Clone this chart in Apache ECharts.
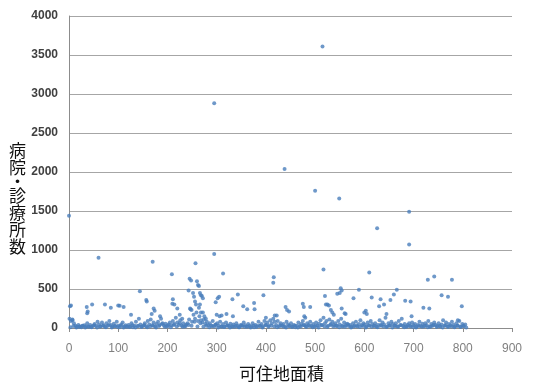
<!DOCTYPE html>
<html>
<head>
<meta charset="utf-8">
<script src="https://cdn.jsdelivr.net/npm/echarts@6/dist/echarts.min.js"></script>
<style>
  html, body {margin: 0; padding: 0; background: #fff;}
  #chart {width: 538px; height: 383px;}
</style>
</head>
<body>
<div id="chart"></div>
<script>
// notable (higher) points
const peakArea = [
  0, 2, 4, 7, 36, 37, 38, 47, 60, 73, 85, 100, 103, 111, 126, 144, 157, 158, 170, 172,
  174, 168, 185, 209, 211, 210, 214, 220, 225, 230, 243, 245, 248, 252, 254, 256, 257, 258, 260, 262,
  264, 266, 268, 270, 272, 266, 264, 268, 272, 275, 278, 246, 249, 295, 295, 298, 302, 305, 300, 306,
  310, 313, 320, 333, 332, 343, 354, 362, 376, 377, 395, 400, 415, 416, 418, 422, 438, 440, 443, 447,
  475, 477, 478, 480, 490, 500, 515, 517, 520, 522, 525, 528, 532, 535, 538, 545, 549, 550, 552, 554,
  554, 560, 562, 578, 589, 600, 603, 605, 610, 615, 626, 630, 633, 640, 645, 653, 660, 666, 683, 691,
  691, 694, 696, 720, 729, 732, 742, 757, 770, 778, 790, 798
];
const peakCount = [
  1440, 280, 290, 100, 270, 190, 210, 300, 900, 300, 260, 290, 285, 270, 170, 470, 360, 340, 850, 250,
  220, 180, 150, 690, 370, 310, 300, 250, 170, 120, 480, 630, 610, 450, 400, 340, 830, 300, 600, 550,
  540, 450, 420, 410, 380, 300, 260, 200, 200, 150, 120, 250, 230, 2880, 950, 330, 380, 400, 170, 150,
  160, 700, 180, 150, 370, 430, 280, 240, 320, 240, 420, 130, 580, 650, 160, 160, 2040, 270, 230, 210,
  310, 270, 150, 130, 270, 1760, 3610, 750, 410, 300, 300, 290, 230, 200, 170, 440, 1660, 450, 510, 480,
  250, 190, 180, 380, 490, 200, 220, 180, 710, 390, 1280, 280, 370, 300, 180, 360, 430, 490, 350, 1490,
  1070, 340, 150, 260, 620, 250, 660, 420, 400, 620, 100, 280
];

// dense band of low values
const lowArea = [
  1, 4, 7, 10, 13, 16, 19, 22, 25, 28, 31, 34, 37, 40, 43, 46, 49, 52, 55, 58,
  61, 64, 67, 70, 73, 76, 79, 82, 85, 88, 91, 94, 97, 100, 103, 106, 109, 112, 115, 118,
  121, 124, 127, 130, 133, 136, 139, 142, 145, 148, 151, 154, 157, 160, 163, 166, 169, 172, 175, 178,
  181, 184, 187, 190, 193, 196, 199, 202, 205, 208, 211, 214, 217, 220, 223, 226, 229, 232, 235, 238,
  241, 244, 247, 250, 253, 256, 259, 262, 265, 268, 271, 274, 277, 280, 283, 286, 289, 292, 295, 298,
  301, 304, 307, 310, 313, 316, 319, 322, 325, 328, 331, 334, 337, 340, 343, 346, 349, 352, 355, 358,
  361, 364, 367, 370, 373, 376, 379, 382, 385, 388, 391, 394, 397, 400, 403, 406, 409, 412, 415, 418,
  421, 424, 427, 430, 433, 436, 439, 442, 445, 448, 451, 454, 457, 460, 463, 466, 469, 472, 475, 478,
  481, 484, 487, 490, 493, 496, 499, 502, 505, 508, 511, 514, 517, 520, 523, 526, 529, 532, 535, 538,
  541, 544, 547, 550, 553, 556, 559, 562, 565, 568, 571, 574, 577, 580, 583, 586, 589, 592, 595, 598,
  601, 604, 607, 610, 613, 616, 619, 622, 625, 628, 631, 634, 637, 640, 643, 646, 649, 652, 655, 658,
  661, 664, 667, 670, 673, 676, 679, 682, 685, 688, 691, 694, 697, 700, 703, 706, 709, 712, 715, 718,
  721, 724, 727, 730, 733, 736, 739, 742, 745, 748, 751, 754, 757, 760, 763, 766, 769, 772, 775, 778,
  781, 784, 787, 790, 793, 796, 799, 802, 805
];
const lowCount = [
  120, 90, 110, 60, 30, 15, 40, 20, 10, 25, 35, 20, 60, 15, 40, 10, 30, 50, 25, 80,
  45, 20, 70, 35, 15, 60, 30, 90, 40, 20, 55, 25, 80, 30, 10, 45, 70, 20, 35, 15,
  40, 20, 60, 10, 30, 80, 25, 120, 45, 15, 30, 60, 20, 90, 45, 110, 35, 70, 20, 50,
  80, 40, 120, 60, 30, 55, 20, 45, 70, 35, 90, 50, 130, 70, 40, 100, 30, 60, 20, 45,
  60, 110, 240, 80, 170, 120, 200, 90, 150, 100, 70, 110, 50, 80, 40, 60, 30, 90, 20, 45,
  60, 30, 80, 20, 50, 15, 70, 35, 25, 55, 20, 45, 15, 60, 30, 10, 40, 25, 70, 35,
  15, 50, 30, 20, 60, 10, 40, 25, 80, 30, 50, 20, 90, 40, 70, 30, 100, 60, 120, 80,
  40, 90, 20, 60, 30, 50, 15, 80, 45, 25, 60, 20, 40, 10, 30, 70, 25, 50, 90, 35,
  20, 60, 40, 80, 25, 50, 15, 70, 30, 55, 100, 40, 130, 60, 90, 30, 110, 50, 80, 40,
  60, 30, 90, 45, 120, 20, 70, 35, 55, 25, 40, 15, 60, 30, 80, 20, 50, 100, 35, 60,
  45, 20, 70, 30, 90, 50, 25, 60, 15, 40, 100, 30, 70, 45, 130, 20, 60, 35, 80, 50,
  30, 60, 20, 90, 40, 120, 25, 50, 15, 40, 60, 20, 70, 35, 50, 15, 40, 80, 25, 55,
  20, 60, 35, 90, 15, 50, 30, 70, 40, 25, 60, 20, 45, 100, 30, 70, 15, 50, 35, 80,
  40, 20, 60, 30, 90, 15, 50, 25, 45
];
const floorArea = [
  3, 9, 15, 21, 27, 33, 39, 45, 51, 57, 63, 69, 75, 81, 87, 93, 99, 105, 111, 117,
  123, 129, 135, 141, 147, 153, 159, 165, 171, 177, 183, 189, 195, 201, 207, 213, 219, 225, 231, 237,
  243, 249, 255, 261, 267, 273, 279, 285, 291, 297, 303, 309, 315, 321, 327, 333, 339, 345, 351, 357,
  363, 369, 375, 381, 387, 393, 399, 405, 411, 417, 423, 429, 435, 441, 447, 453, 459, 465, 471, 477,
  483, 489, 495, 501, 507, 513, 519, 525, 531, 537, 543, 549, 555, 561, 567, 573, 579, 585, 591, 597,
  603, 609, 615, 621, 627, 633, 639, 645, 651, 657, 663, 669, 675, 681, 687, 693, 699, 705, 711, 717,
  723, 729, 735, 741, 747, 753, 759, 765, 771, 777, 783, 789, 795, 801, 807
];
const floorCount = [
  10, 25, 5, 15, 30, 8, 20, 12, 35, 5, 18, 28, 10, 40, 6, 22, 14, 30, 8, 20,
  12, 35, 6, 25, 15, 40, 10, 20, 30, 8, 25, 50, 15, 30, 10, 40, 20, 60, 15, 25,
  40, 30, 80, 20, 60, 15, 30, 10, 25, 40, 8, 20, 12, 30, 6, 18, 25, 10, 35, 15,
  20, 8, 30, 12, 25, 6, 40, 15, 30, 20, 10, 35, 18, 8, 25, 12, 30, 6, 20, 40,
  15, 25, 10, 30, 8, 35, 20, 12, 40, 18, 25, 10, 30, 15, 45, 8, 20, 30, 12, 25,
  6, 35, 15, 28, 10, 40, 20, 12, 30, 8, 25, 15, 35, 10, 20, 30, 12, 8, 25, 15,
  30, 10, 20, 40, 12, 25, 8, 35, 15, 20, 10, 30, 12, 25, 8
];

const axisNameX = '可住地面積';
const axisNameY = ['病', '院', '・', '診', '療', '所', '数'];

const pair = (xs, ys) => xs.map((x, i) => [x, ys[i]]);

const myChart = echarts.init(document.getElementById('chart'));
myChart.setOption({
  animation: false,
  grid: {left: 69, right: 26, top: 16, bottom: 55},
  xAxis: {
    type: 'value',
    min: 0,
    max: 900,
    interval: 100,
    splitLine: {show: false},
    axisLine: {lineStyle: {color: '#8c8c8c'}},
    axisTick: {show: true, length: 4, lineStyle: {color: '#8c8c8c'}},
    axisLabel: {color: '#808080', fontFamily: 'Liberation Sans', fontSize: 12, margin: 15}
  },
  yAxis: {
    type: 'value',
    min: 0,
    max: 4000,
    interval: 500,
    splitLine: {lineStyle: {color: '#a6a6a6'}},
    axisLine: {show: true, lineStyle: {color: '#8c8c8c'}},
    axisTick: {show: false},
    axisLabel: {
      color: '#404040',
      fontFamily: 'Liberation Sans',
      fontWeight: 'bold',
      fontSize: 12,
      margin: 11,
      formatter: v => String(v)
    }
  },
  graphic: [
    {
      type: 'text',
      left: 9,
      top: 142,
      style: {
        text: axisNameY.map(c => c === '・' ? '{d|' + c + '}' : '{a|' + c + '}').join('\n'),
        rich: {
          a: {fontSize: 17, lineHeight: 17, fontFamily: 'Noto Sans CJK JP', fill: '#111'},
          d: {fontSize: 17, lineHeight: 11, fontFamily: 'Noto Sans CJK JP', fill: '#111'}
        }
      }
    },
    {
      type: 'text',
      left: 239,
      top: 365,
      style: {
        text: axisNameX,
        fontSize: 17,
        fontFamily: 'Noto Sans CJK JP',
        fill: '#111'
      }
    }
  ],
  series: [
    {
      type: 'scatter',
      data: pair(floorArea, floorCount),
      symbol: 'circle',
      symbolSize: 4,
      itemStyle: {color: '#4a7ebb'}
    },
    {
      type: 'scatter',
      data: pair(lowArea, lowCount),
      symbol: 'circle',
      symbolSize: 4,
      itemStyle: {color: '#4a7ebb'}
    },
    {
      type: 'scatter',
      data: pair(peakArea, peakCount),
      symbol: 'circle',
      symbolSize: 4,
      itemStyle: {color: '#4a7ebb'}
    }
  ]
});
</script>
</body>
</html>
